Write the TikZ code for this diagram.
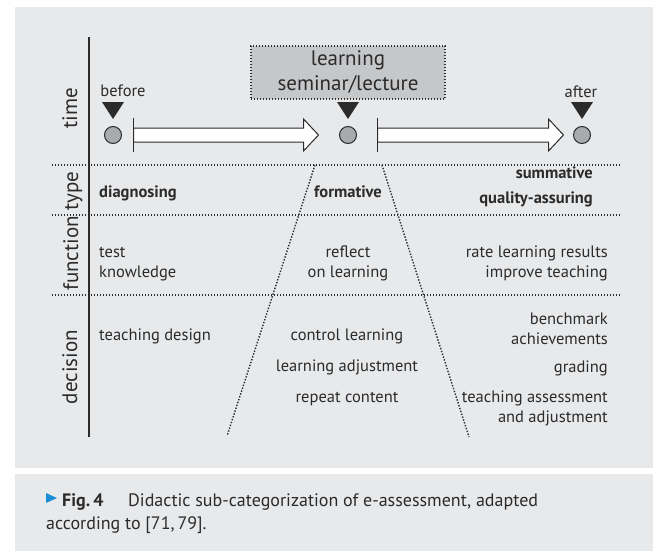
\documentclass[tikz,border=0pt]{standalone}
\usepackage{fontspec}
\setmainfont{PT Sans}
\usetikzlibrary{calc}
\definecolor{panelgray}{HTML}{E8E9EB}
\definecolor{boxgray}{HTML}{C6C7C9}
\definecolor{dotgray}{HTML}{A9AAAC}
\definecolor{inkgray}{HTML}{2B2B2B}
\definecolor{figblue}{HTML}{1A8FD6}
\tikzset{
  lbl/.style={font=\fontsize{16.5}{19.5}\selectfont, text=inkgray, inner sep=0pt},
  lblb/.style={lbl, font=\fontsize{16.5}{19.5}\selectfont\bfseries},
  rowname/.style={font=\fontsize{21}{25}\selectfont, text=inkgray, inner sep=0pt, rotate=90, anchor=base},
  dot/.style={circle, minimum size=17pt, inner sep=0pt, fill=dotgray, draw=inkgray, line width=1pt},
  dots/.style={draw=inkgray, line width=1.4pt, dash pattern=on 1.4pt off 1.6pt},
  axis/.style={inkgray, line width=1.6pt},
  captxt/.style={font=\fontsize{18}{23}\selectfont, text=inkgray, inner sep=0pt},
}

\begin{document}
\begin{tikzpicture}[x=1pt, y=-1pt]
            \useasboundingbox (0,0) rectangle (653,551);
            \fill[white] (0,0) rectangle (653,551);
            \fill[panelgray] (15,7) rectangle (653,468);
            \fill[panelgray] (15,474) rectangle (653,551);

            % rows
            \draw[axis] (89,37) -- (89,437);
            \foreach \y in {165, 215, 295} {
                \draw[dots] (52,\y) -- (620,\y);
            }
            \node[rowname] (row-time) at (77,108) {time};
            \node[rowname] (row-type) at (78,231) {function type};
            \node[rowname] (row-dec) at (77,367) {decision};

            % time line
            \node[dot] (before-dot) at (113,135) {};
            \node[dot] (mid-dot) at (348,135) {};
            \node[dot] (after-dot) at (582,135) {};
            \foreach \d in {before-dot, mid-dot, after-dot} {
                \fill[inkgray] ($(\d)+(-11,-33)$) -- ++(22,0) -- ++(-11,17) -- cycle;
            }
            \foreach \d/\gap/\len in {before-dot/11.5/170, mid-dot/20.5/171} {
                \draw[inkgray, line width=1pt, fill=white, line join=miter]
                    ($(\d.east)+(\gap,-7)$) -- ++(\len,0) -- ++(0,-9) -- ++(15,16)
                    -- ++(-15,16) -- ++(0,-9) -- ++(-\len,0) -- cycle;
                \draw[axis] ($(\d.east)+(\gap,-17)$) -- ++(0,34);
            }
            \node[lbl, anchor=base] (before) at (123,96) {before};
            \node[lbl, anchor=base] (after) at (581,97) {after};
            \node[dots, fill=boxgray, text=inkgray, font=\fontsize{21}{25}\selectfont, align=center,
                  minimum width=194pt, minimum height=53pt, inner sep=0pt]
                (lecture) at (348,72.5) {learning\\seminar/lecture};

            % type
            \node[lblb, anchor=base west] (diag) at (99,197) {diagnosing};
            \node[lblb, anchor=base] (form) at (348,197) {formative};
            \node[lblb, anchor=base east] (summ) at (593,178) {summative};
            \node[lblb, anchor=base east] (qual) at (593,203) {quality-assuring};

            % function (multi-line nodes: base is the last line)
            \node[lbl, anchor=base west, align=left] (test) at (99,277) {test\\knowledge};
            \node[lbl, anchor=base, align=center] (reflect) at (348,277) {reflect\\on learning};
            \node[lbl, anchor=base east, align=right] (rate) at (608,277) {rate learning results\\improve teaching};

            % decision
            \node[lbl, anchor=base west] (design) at (99,340) {teaching design};
            \node[lbl, anchor=base] (control) at (347,340) {control learning};
            \node[lbl, anchor=base] (adjust) at (347,371) {learning adjustment};
            \node[lbl, anchor=base] (repeat) at (347,402) {repeat content};
            \node[lbl, anchor=base east, align=right] (bench) at (608,344) {benchmark\\achievements};
            \node[lbl, anchor=base east] (grading) at (608,372) {grading};
            \node[lbl, anchor=base east, align=right] (assess) at (608,422) {teaching assessment\\and adjustment};

            % formative corridor
            \coordinate (fl-top) at (315,165);
            \coordinate (fl-bot) at (227,436);
            \coordinate (fr-top) at (382,165);
            \coordinate (fr-bot) at (469,437);
            \draw[dots] (fl-top) -- (fl-bot);
            \draw[dots] (fr-top) -- (fr-bot);

            % caption
            \fill[figblue] (46,493) -- (57,498) -- (46,503) -- cycle;
            \node[captxt, anchor=base west] (fig-no) at (62,506) {\bfseries Fig.\,4};
            \node[captxt, anchor=base west] (cap-a) at (128,506) {Didactic sub-categorization of e-assessment, adapted};
            \node[captxt, anchor=base west] (cap-b) at (46,529) {according to [71,\,79].};
\end{tikzpicture}
\end{document}
